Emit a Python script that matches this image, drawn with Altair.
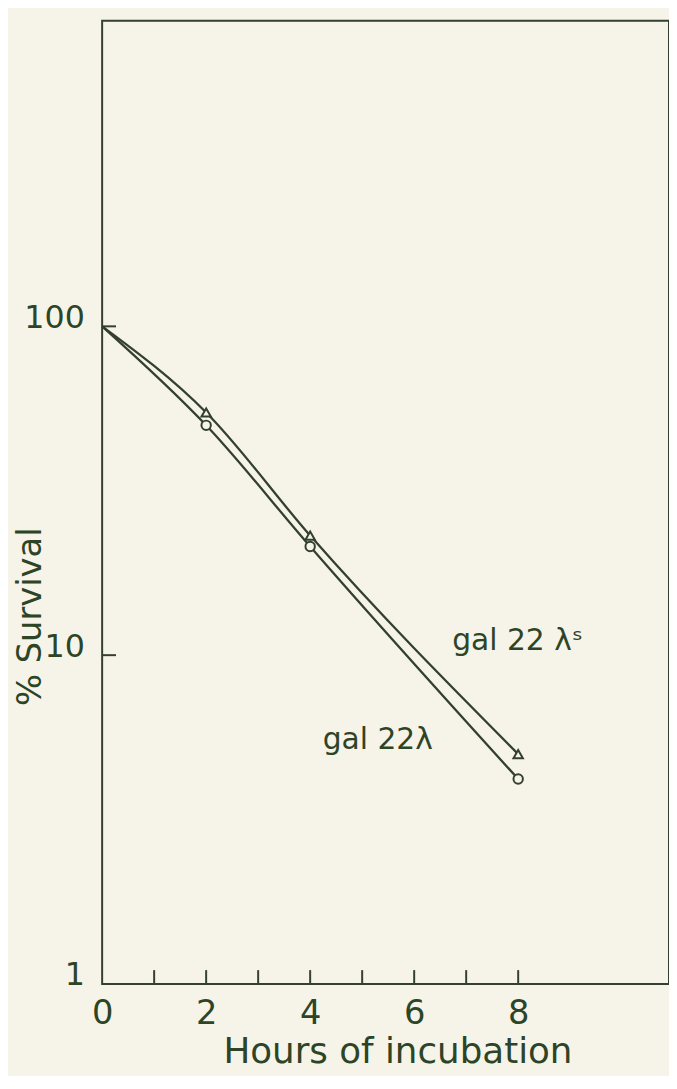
import altair as alt
import pandas as pd

# ---- data ----
hours = [0, 2, 4, 8]
gal22_lambda = [100, 50.0, 21.4, 4.2]        # open circles
gal22_lambda_s = [100, 54.7, 23.1, 5.0]      # open triangles
strains = ["gal 22λ", "gal 22 λˢ"]

x_tick_values = [1, 2, 3, 4, 5, 6, 7, 8]
x_label_values = [0, 2, 4, 6, 8]
y_label_values = [1, 10, 100]
y_tick_values = [10, 100]

ann_text = ["gal 22 λˢ", "gal 22λ"]
ann_hours = [6.73, 4.24]
ann_survival = [11.0, 5.5]

# ---- styling ----
W, H = 572, 972
bg = "#f6f4e9"
ink = "#34402f"
txt = "#2d4427"
font = "DejaVu Sans"

rows = []
for h, a, b in zip(hours, gal22_lambda, gal22_lambda_s):
    rows.append({"hours": h, "survival": a, "strain": strains[0]})
    rows.append({"hours": h, "survival": b, "strain": strains[1]})
df = pd.DataFrame(rows)
pts = df[df.hours > 0]

xticks_df = pd.DataFrame({"hours": x_tick_values})
yticks_df = pd.DataFrame({"survival": y_tick_values})
ann_df = pd.DataFrame({"hours": ann_hours, "survival": ann_survival, "label": ann_text})

xscale = alt.Scale(domain=[0, 10.9], nice=False, zero=False)
yscale = alt.Scale(type="log", domain=[1, 850], nice=False)

x_axis = alt.Axis(
    values=x_label_values, title="Hours of incubation", grid=False, ticks=False,
    domain=False, format="d", labelFont=font, labelFontSize=34, labelColor=txt,
    labelBaseline="middle", labelPadding=30, labelFlush=False,
    titleFont=font, titleFontSize=36, titleFontWeight="normal", titleColor=txt,
    titleX=298, titleY=79, titleBaseline="alphabetic", titleAlign="center",
)
y_axis = alt.Axis(
    values=y_label_values, title="% Survival", grid=False, ticks=False,
    domain=False, format="d", labelFont=font, labelFontSize=32, labelColor=txt,
    labelAlign="right", labelPadding=18, labelOffset=-9, labelFlush=False,
    titleFont=font, titleFontSize=34, titleFontWeight="normal", titleColor=txt,
    titleAngle=-90, titleX=-62, titleY=691, titleBaseline="alphabetic", titleAlign="left",
)

X = alt.X("hours:Q", scale=xscale, axis=x_axis)
Y = alt.Y("survival:Q", scale=yscale, axis=y_axis)

lines = alt.Chart(df).mark_line(
    color=ink, strokeWidth=2.3, interpolate="monotone"
).encode(x=X, y=Y, detail="strain:N")

markers = alt.Chart(pts).mark_point(
    filled=True, fill=bg, stroke=ink, strokeWidth=2, size=90, opacity=1
).encode(
    x=X, y=Y,
    shape=alt.Shape("strain:N", scale=alt.Scale(domain=strains, range=["circle", "triangle-up"]), legend=None),
)

xticks = alt.Chart(xticks_df).mark_rule(color=ink, strokeWidth=2).encode(
    x=X, y=alt.value(H - 14), y2=alt.value(H)
)
yticks = alt.Chart(yticks_df).mark_rule(color=ink, strokeWidth=2).encode(
    y=Y, x=alt.value(0), x2=alt.value(14)
)

labels = alt.Chart(ann_df).mark_text(
    align="left", baseline="middle", font=font, fontSize=30, color=txt
).encode(x=X, y=Y, text="label:N")

chart = alt.layer(lines, markers, xticks, yticks, labels).properties(
    width=W, height=H,
    padding={"left": 95, "top": 8, "right": 0, "bottom": 88},
    autosize=alt.AutoSizeParams(type="none"),
    background=bg,
).configure_view(stroke=ink, strokeWidth=2)

chart.save("out.html", embed_options={"renderer": "svg", "actions": False})
